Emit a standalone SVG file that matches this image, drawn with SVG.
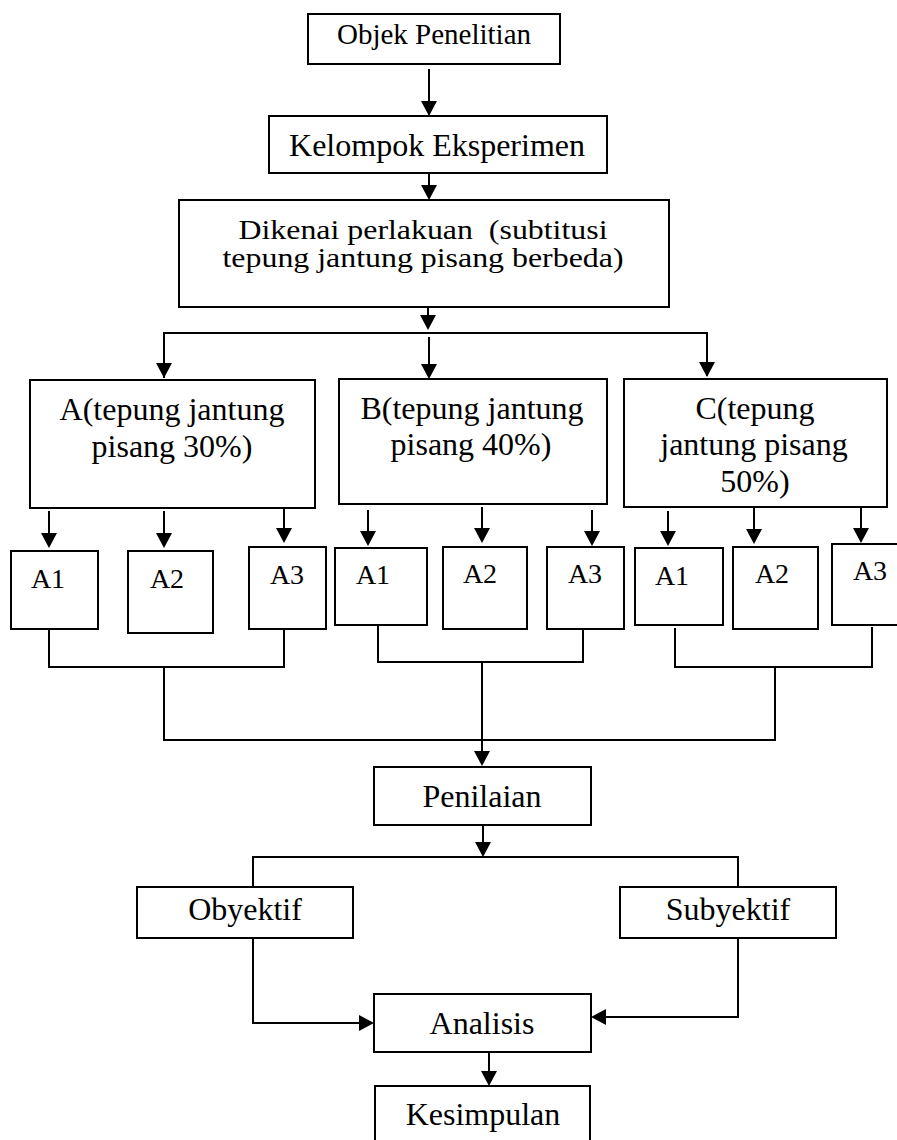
<svg xmlns="http://www.w3.org/2000/svg" width="897" height="1140" viewBox="0 0 897 1140">
<style>
.box{fill:#fff;stroke:#000;stroke-width:2}
.ln{fill:none;stroke:#000;stroke-width:2}
.ar{fill:none;stroke:#000;stroke-width:2;marker-end:url(#ah)}
text{font-family:"Liberation Serif","Times New Roman",serif;fill:#000;text-anchor:middle;font-size:32px}
.s{font-size:28px}
.d{font-size:28px}
</style>
<defs>
<marker id="ah" markerUnits="userSpaceOnUse" viewBox="0 0 15 16" markerWidth="15" markerHeight="16" refX="12" refY="8" orient="auto">
<path d="M0,0 L15,8 L0,16 z" fill="#000"/>
</marker>
</defs>
<rect width="897" height="1140" fill="#fff"/>
<g id="connectors">
<line class="ar" x1="429" y1="69" x2="429" y2="113"/>
<line class="ar" x1="429" y1="173" x2="429" y2="197"/>
<line class="ar" x1="428" y1="307" x2="428" y2="327"/>
<polyline class="ln" points="164,378 164,333 707,333 707,376"/>
<line class="ar" x1="164" y1="333" x2="164" y2="375"/>
<line class="ar" x1="429" y1="337" x2="429" y2="376"/>
<line class="ar" x1="707" y1="333" x2="707" y2="374"/>
<line class="ar" x1="49" y1="511" x2="49" y2="545"/>
<line class="ar" x1="164" y1="511" x2="164" y2="545"/>
<line class="ar" x1="284" y1="507" x2="284" y2="540"/>
<line class="ar" x1="368" y1="510" x2="368" y2="543"/>
<line class="ar" x1="482" y1="507" x2="482" y2="540"/>
<line class="ar" x1="592" y1="510" x2="592" y2="543"/>
<line class="ar" x1="668" y1="511" x2="668" y2="543"/>
<line class="ar" x1="754" y1="508" x2="754" y2="541"/>
<line class="ar" x1="861" y1="508" x2="861" y2="540"/>
<polyline class="ln" points="49,629 49,667 284,667 284,629"/>
<polyline class="ln" points="378,625 378,662 583,662 583,628"/>
<polyline class="ln" points="675,628 675,667 872,667 872,627"/>
<polyline class="ln" points="164,667 164,740 775,740 775,667"/>
<line class="ar" x1="482" y1="662" x2="482" y2="763"/>
<line class="ar" x1="483" y1="825" x2="483" y2="854"/>
<polyline class="ln" points="253,887 253,857 738,857 738,887"/>
<polyline class="ar" points="253,938 253,1023 371,1023"/>
<polyline class="ar" points="738,938 738,1017 594,1017"/>
<line class="ar" x1="489" y1="1052" x2="489" y2="1083"/>
</g>
<g id="objek"><rect class="box" x="308" y="14" width="252" height="50"/><text x="434" y="44" style="font-size:29px">Objek Penelitian</text></g>
<g id="kelompok"><rect class="box" x="269" y="116" width="338" height="57"/><text x="437" y="156">Kelompok Eksperimen</text></g>
<g id="dikenai"><rect class="box" x="179" y="200" width="490" height="107"/><text class="d" x="423" y="239" xml:space="preserve" textLength="369" lengthAdjust="spacingAndGlyphs">Dikenai perlakuan  (subtitusi</text><text class="d" x="423" y="267" textLength="401" lengthAdjust="spacingAndGlyphs">tepung jantung pisang berbeda)</text></g>
<g id="boxA"><rect class="box" x="30" y="380" width="285" height="128"/><text x="172" y="420">A(tepung jantung</text><text x="172" y="457">pisang 30%)</text></g>
<g id="boxB"><rect class="box" x="339" y="379" width="268" height="125"/><text x="472" y="419">B(tepung jantung</text><text x="471" y="455">pisang 40%)</text></g>
<g id="boxC"><rect class="box" x="624" y="379" width="263" height="128"/><text x="755" y="419">C(tepung</text><text x="754" y="455">jantung pisang</text><text x="755" y="492">50%)</text></g>
<g id="a-a1"><rect class="box" x="11" y="551" width="87" height="78"/><text class="s" x="48" y="588">A1</text></g>
<g id="a-a2"><rect class="box" x="128" y="551" width="85" height="82"/><text class="s" x="167" y="588">A2</text></g>
<g id="a-a3"><rect class="box" x="249" y="547" width="77" height="82"/><text class="s" x="287" y="584">A3</text></g>
<g id="b-a1"><rect class="box" x="335" y="548" width="92" height="77"/><text class="s" x="373" y="584">A1</text></g>
<g id="b-a2"><rect class="box" x="443" y="547" width="84" height="82"/><text class="s" x="480" y="583">A2</text></g>
<g id="b-a3"><rect class="box" x="547" y="547" width="77" height="82"/><text class="s" x="585" y="583">A3</text></g>
<g id="c-a1"><rect class="box" x="635" y="548" width="88" height="77"/><text class="s" x="672" y="585">A1</text></g>
<g id="c-a2"><rect class="box" x="733" y="547" width="85" height="82"/><text class="s" x="772" y="583">A2</text></g>
<g id="c-a3"><rect class="box" x="832" y="544" width="70" height="81"/><text class="s" x="870" y="580">A3</text></g>
<g id="penilaian"><rect class="box" x="374" y="767" width="217" height="58"/><text x="482" y="807">Penilaian</text></g>
<g id="obyektif"><rect class="box" x="137" y="887" width="216" height="51"/><text x="245" y="920">Obyektif</text></g>
<g id="subyektif"><rect class="box" x="620" y="887" width="216" height="51"/><text x="728" y="920">Subyektif</text></g>
<g id="analisis"><rect class="box" x="374" y="994" width="217" height="58"/><text x="482" y="1034">Analisis</text></g>
<g id="kesimpulan"><rect class="box" x="375" y="1086" width="215" height="60"/><text x="483" y="1125">Kesimpulan</text></g>
</svg>
